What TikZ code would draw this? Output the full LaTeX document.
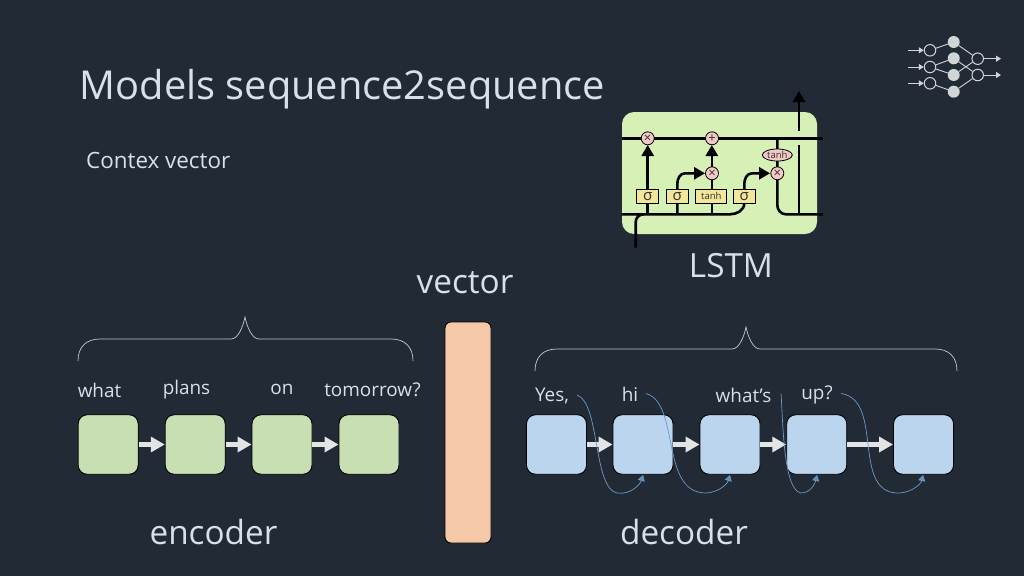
\documentclass[tikz,border=0pt]{standalone}
\usepackage{fontspec}
\setmainfont{Open Sans}
\usetikzlibrary{arrows.meta,shapes.geometric}
\definecolor{bgc}{HTML}{212A35}
\definecolor{txt}{HTML}{D6E1EA}
\definecolor{gbox}{HTML}{C7DFB2}
\definecolor{bbox}{HTML}{BBD5EE}
\definecolor{obox}{HTML}{F5C9A8}
\definecolor{arr}{HTML}{E2E4E5}
\definecolor{cur}{HTML}{6E9AC8}
\definecolor{brc}{HTML}{C2CBD2}
\definecolor{lstmbg}{HTML}{D6F0B6}
\definecolor{lstmy}{HTML}{F3E59A}
\definecolor{lstmp}{HTML}{F3C9C6}
\definecolor{ico}{HTML}{D2D5D7}
\tikzset{
  x=1pt,y=-1pt,
  cell/.style={draw=black,line width=0.9pt,rounded corners=9pt,minimum width=60pt,minimum height=59.5pt,inner sep=0},
  enc/.style={cell,fill=gbox},
  dec/.style={cell,fill=bbox},
  flow/.style={draw=arr,line width=5.5pt,-{Triangle[length=14pt,width=15pt,fill=arr]},shorten >=0pt},
  bigtxt/.style={text=txt,font=\fontsize{33.3}{38}\selectfont,inner sep=0},
  word/.style={text=txt,font=\fontsize{18.9}{22}\selectfont,inner sep=0},
  back/.style={draw=cur,line width=0.7pt,-{Triangle[length=6pt,width=7pt,fill=cur!90!black]}},
  brace/.style={draw=brc,line width=0.7pt},
  lw/.style={draw=black,line width=2.6pt},
  lwa/.style={lw,-{Triangle[length=11pt,width=12pt]}},
  lop/.style={circle,draw=black,line width=0.8pt,fill=lstmp,minimum size=13pt,inner sep=0,font=\fontsize{13}{13}\selectfont,text=black!80},
  lbox/.style={draw=black,line width=0.7pt,fill=lstmy,minimum height=14pt,minimum width=22pt,inner sep=0,font=\fontsize{15}{15}\selectfont,text=black!80},
  iopen/.style={circle,draw=ico,line width=1pt,minimum size=11.5pt,inner sep=0},
  ifill/.style={circle,fill=ico,minimum size=12pt,inner sep=0},
  iline/.style={draw=ico,line width=0.9pt},
  iarr/.style={iline,-{Triangle[length=5pt,width=6pt,fill=ico]}},
}
\begin{document}
\begin{tikzpicture}
\useasboundingbox (0,0) rectangle (1024,576);
\fill[bgc] (0,0) rectangle (1024,576);
% title
\node[text=txt,font=\fontsize{39.8}{44}\selectfont,anchor=west,inner sep=0] (title) at (79.5,89) {Models sequence2sequence};
\node[text=txt,font=\fontsize{22.4}{26}\selectfont,anchor=west,inner sep=0] (ctx) at (86,160.5) {Contex vector};
% LSTM
\node[draw=none,fill=lstmbg,rounded corners=12pt,minimum width=195pt,minimum height=122pt,inner sep=0] (lstmbox) at (719.5,173) {};
\coordinate (tl) at (621.7,138.3); \coordinate (tr) at (823,138.3);
\coordinate (bl) at (621.7,214.3); \coordinate (br) at (823,214.3);
\coordinate (inb) at (635.7,247.7);
\coordinate (outa) at (799,214.3); \coordinate (outb) at (799,144.5);
\coordinate (outc) at (799,131); \coordinate (outd) at (799,91);
\coordinate (tanhtop) at (777.3,138.3);
\draw[lw] (tl) -- (tr);
\draw[lw] (outa) -- (outb);
\draw[lwa] (outc) -- (outd);
\draw[lw] (inb) -- (635.7,222) to[out=90,in=180] (643.5,214.3) -- (bl);
\draw[lw] (643,214.3) -- (730,214.3) to[out=0,in=-90] (744.3,203);
\draw[lwa] (744.3,203) -- (744.3,184) to[out=90,in=180,looseness=1] (752,173.3) -- (770,173.3);
\draw[lwa] (677.3,214.3) -- (677.3,184) to[out=90,in=180,looseness=1] (685,173.3) -- (705,173.3);
\draw[lwa] (647.7,214.3) -- (647.7,145);
\draw[lw] (711.8,214.3) -- (711.8,180);
\draw[lwa] (711.8,167) -- (711.8,145);
\draw[lw] (tanhtop) -- (777.3,205) to[out=-90,in=180] (786,214.3) -- (br);
\node[lop] (l1) at (647.7,138.3) {×};
\node[lop] (l2) at (712,138.3) {+};
\node[lop] (l3) at (712,173.3) {×};
\node[lop] (l4) at (777.3,173.3) {×};
\node[ellipse,draw=black,line width=0.8pt,fill=lstmp,minimum width=30pt,minimum height=12pt,inner sep=0,font=\fontsize{9.5}{10}\selectfont,text=black!80] (l5) at (777.3,155) {tanh};
\node[lbox] (s1) at (647.7,196.7) {σ};
\node[lbox] (s2) at (677.3,196.7) {σ};
\node[lbox,minimum width=31pt,font=\fontsize{9.5}{10}\selectfont] (s3) at (711.3,196.3) {tanh};
\node[lbox] (s4) at (744.3,196.7) {σ};
\node[bigtxt] (lstm) at (731,266) {LSTM};
\node[bigtxt] (vec) at (465,282.5) {vector};
% icon
\foreach \n/\y in {a/50.3,b/67,c/83.3}{
  \node[iopen] (i\n) at (930,\y) {};
  \coordinate (is\n) at (908,\y);
  \draw[iarr] (is\n) -- (i\n);
}
\foreach \n/\y in {a/42,b/58.3,c/75,d/91.7}{ \node[ifill] (f\n) at (953.7,\y) {}; }
\foreach \n/\y in {a/58.7,b/75}{
  \node[iopen] (r\n) at (977.7,\y) {};
  \coordinate (e\n) at (1001,\y);
  \draw[iarr] (r\n) -- (e\n);
}
\draw[iline] (ia)--(fa) (ib)--(fb) (ib)--(fc) (ic)--(fd) (fa)--(ra) (fb)--(rb) (fc)--(ra) (fd)--(rb);
% braces
\coordinate (b1s) at (78,361); \coordinate (b1t) at (245,317); \coordinate (b1e) at (413,361);
\draw[brace] (b1s) .. controls (78,347) and (86,339) .. (100,339) -- (231,339) .. controls (238,339) and (243,327) .. (b1t) .. controls (247,327) and (252,339) .. (259,339) -- (391,339) .. controls (405,339) and (413,347) .. (b1e);
\coordinate (b2s) at (535,371); \coordinate (b2t) at (746,327); \coordinate (b2e) at (957,371);
\draw[brace] (b2s) .. controls (535,357) and (543,349) .. (557,349) -- (732,349) .. controls (739,349) and (744,337) .. (b2t) .. controls (748,337) and (753,349) .. (760,349) -- (935,349) .. controls (949,349) and (957,357) .. (b2e);
% encoder
\node[enc] (e1) at (108.2,444.5) {};
\node[enc] (e2) at (195.2,444.5) {};
\node[enc] (e3) at (282,444.5) {};
\node[enc] (e4) at (369,444.5) {};
\draw[flow] (e1) -- (e2);
\draw[flow] (e2) -- (e3);
\draw[flow] (e3) -- (e4);
\node[word] (w1) at (99.5,390) {what};
\node[word] (w2) at (186.5,389.5) {plans};
\node[word] (w3) at (282,389) {on};
\node[word] (w4) at (372.5,390) {tomorrow?};
\node[bigtxt] (encl) at (213.5,532.5) {encoder};
% vector
\node[draw=black,line width=0.9pt,fill=obox,rounded corners=6pt,minimum width=46pt,minimum height=221pt,inner sep=0] (vbar) at (468,432.5) {};
% decoder
\node[dec] (d1) at (556.5,444.5) {};
\node[dec] (d2) at (643,444.5) {};
\node[dec] (d3) at (730,444.5) {};
\node[dec] (d4) at (816.7,444.5) {};
\node[dec] (d5) at (923.5,444.5) {};
\draw[flow] (d1) -- (d2);
\draw[flow] (d2) -- (d3);
\draw[flow] (d3) -- (d4);
\draw[flow] (d4) -- (d5);
\node[word] (y1) at (552,396) {Yes,};
\node[word] (y2) at (630,394.5) {hi};
\node[word] (y3) at (743.5,395) {what’s};
\node[word] (y4) at (817,395) {up?};
\coordinate (c1) at (577,395); \coordinate (t1) at (643,475);
\coordinate (c2) at (646,393.5); \coordinate (t2) at (730,475);
\coordinate (c3) at (781,393.5); \coordinate (t3) at (817,475);
\coordinate (c4) at (841,393.5); \coordinate (t4) at (923,475);
\draw[back] (c1) .. controls (600,403) and (593,488) .. (617,493) .. controls (630,495) and (640,485) .. (t1);
\draw[back] (c2) .. controls (680,403) and (660,492) .. (705,493) .. controls (717,493) and (727,485) .. (t2);
\draw[back] (c3) .. controls (783,420) and (783,490) .. (801,493) .. controls (810,493) and (815,484) .. (t3);
\draw[back] (c4) .. controls (885,400) and (850,495) .. (900,493) .. controls (912,492) and (921,484) .. (t4);
\node[bigtxt] (decl) at (684,532.5) {decoder};
\end{tikzpicture}
\end{document}
